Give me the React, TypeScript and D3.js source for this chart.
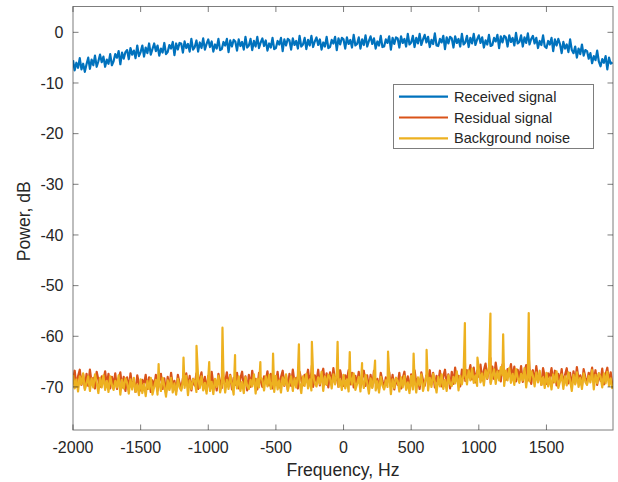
import React from "react";
import * as d3 from "d3";

// Power spectra of the received signal, the residual after cancellation and the background noise.
const WIDTH = 618;
const HEIGHT = 482;
const PLOT = { left: 73, right: 613, top: 6.5, bottom: 430 };

const FREQ_START = -2000; // Hz, first spectral bin
const FREQ_STEP = 12.5; // Hz between stored bins
const X_LIMITS = [-2000, 1992];
const Y_LIMITS = [-78.5, 5.1];
const X_TICKS = [-2000, -1500, -1000, -500, 0, 500, 1000, 1500];
const Y_TICKS = [-70, -60, -50, -40, -30, -20, -10, 0];

// Received signal, dB (one row per 100 Hz)
const receivedDb = [
  -5.5, -7.5, -6.0, -7.0, -5.1, -7.3, -6.2, -7.8,
  -6.3, -5.0, -7.2, -5.4, -6.5, -4.6, -6.8, -5.7,
  -4.4, -5.9, -4.8, -6.8, -5.4, -6.2, -4.3, -6.5,
  -5.7, -4.3, -5.0, -3.7, -6.3, -4.0, -5.2, -3.9,
  -3.5, -5.3, -3.1, -4.4, -3.6, -5.1, -2.6, -4.7,
  -3.9, -2.6, -4.8, -3.0, -4.1, -2.2, -4.4, -3.3,
  -2.2, -3.7, -2.6, -4.6, -3.2, -4.0, -2.1, -4.3,
  -3.9, -2.5, -3.2, -1.9, -4.5, -2.2, -3.4, -2.1,
  -2.2, -4.0, -1.8, -3.1, -2.3, -3.8, -1.3, -3.4,
  -2.9, -1.6, -3.8, -2.0, -3.1, -1.2, -3.4, -2.3,
  -1.4, -2.9, -1.8, -3.8, -2.4, -3.2, -1.3, -3.5,
  -3.3, -1.9, -2.6, -1.3, -3.9, -1.6, -2.8, -1.5,
  -1.8, -3.6, -1.4, -2.7, -1.9, -3.4, -0.9, -3.0,
  -2.6, -1.3, -3.5, -1.7, -2.8, -0.9, -3.1, -2.0,
  -1.2, -2.7, -1.6, -3.6, -2.2, -3.0, -1.1, -3.3,
  -3.1, -1.7, -2.4, -1.1, -3.7, -1.4, -2.6, -1.3,
  -1.6, -3.4, -1.2, -2.5, -1.7, -3.2, -0.7, -2.8,
  -2.4, -1.1, -3.3, -1.5, -2.6, -0.7, -2.9, -1.8,
  -1.0, -2.5, -1.4, -3.4, -2.0, -2.8, -0.9, -3.1,
  -2.9, -1.5, -2.2, -0.9, -3.5, -1.2, -2.4, -1.1,
  -1.4, -3.2, -1.0, -2.3, -1.5, -3.0, -0.5, -2.6,
  -2.3, -1.0, -3.2, -1.4, -2.5, -0.6, -2.8, -1.7,
  -0.8, -2.3, -1.2, -3.2, -1.8, -2.6, -0.7, -2.9,
  -2.8, -1.4, -2.1, -0.8, -3.4, -1.1, -2.3, -1.0,
  -1.2, -3.0, -0.8, -2.1, -1.3, -2.8, -0.3, -2.4,
  -2.0, -0.7, -2.9, -1.1, -2.2, -0.3, -2.5, -1.4,
  -0.5, -2.0, -0.9, -2.9, -1.5, -2.3, -0.2, -2.6,
  -2.7, -1.3, -2.0, -0.7, -3.3, -1.0, -2.2, -0.9,
  -1.2, -3.0, -0.8, -2.1, -1.3, -2.8, -0.3, -2.4,
  -2.0, -0.7, -2.9, -1.1, -2.2, -0.3, -2.5, -1.4,
  -0.6, -2.1, -1.0, -3.0, -1.6, -2.4, -0.5, -2.7,
  -2.5, -1.1, -1.8, -0.5, -3.1, -0.8, -2.0, -0.7,
  -1.0, -2.8, -0.6, -1.9, -1.1, -2.6, -0.1, -2.2,
  -1.9, -0.6, -2.8, -1.0, -2.1, -0.2, -2.4, -1.3,
  -0.7, -2.2, -1.1, -3.1, -1.7, -2.5, -0.6, -2.8,
  -3.1, -1.7, -2.4, -1.1, -3.7, -1.4, -2.6, -1.3,
  -2.3, -4.1, -1.9, -3.2, -2.4, -3.9, -1.4, -3.5,
  -4.1, -2.8, -5.0, -3.2, -4.3, -2.4, -4.6, -3.5,
  -3.7, -5.2, -4.1, -6.1, -4.7, -5.5, -3.6, -5.8,
  -6.7, -5.3, -6.0, -4.7, -7.3, -5.0, -6.2, -5.9,
];

// Residual signal, dB (one row per 100 Hz)
const residualDb = [
  -69.2, -66.8, -69.9, -67.9, -66.6, -69.6, -67.5, -70.3,
  -67.4, -69.8, -66.6, -69.1, -68.2, -70.3, -67.0, -68.6,
  -70.0, -67.9, -68.8, -66.9, -69.7, -67.4, -70.3, -68.0,
  -69.7, -67.3, -70.4, -68.4, -67.1, -70.1, -68.0, -70.8,
  -68.1, -70.5, -67.3, -69.8, -68.9, -71.0, -67.7, -69.3,
  -70.7, -68.6, -69.5, -67.6, -70.4, -68.1, -71.0, -68.7,
  -70.0, -67.6, -70.7, -68.7, -67.4, -70.4, -68.3, -71.1,
  -68.0, -70.4, -67.2, -69.7, -68.8, -70.9, -67.6, -69.2,
  -70.4, -68.3, -69.2, -67.3, -70.1, -67.8, -70.7, -68.4,
  -69.7, -67.3, -70.4, -68.4, -67.1, -70.1, -68.0, -70.8,
  -67.8, -70.2, -67.0, -69.5, -68.6, -70.7, -67.4, -69.0,
  -70.2, -68.1, -69.0, -67.1, -69.9, -67.6, -70.5, -68.2,
  -69.6, -67.2, -70.3, -68.3, -67.0, -70.0, -67.9, -70.7,
  -67.6, -70.0, -66.8, -69.3, -68.4, -70.5, -67.2, -68.8,
  -70.0, -67.9, -68.8, -66.9, -69.7, -67.4, -70.3, -68.0,
  -69.4, -67.0, -70.1, -68.1, -66.8, -69.8, -67.7, -70.5,
  -67.4, -69.8, -66.6, -69.1, -68.2, -70.3, -67.0, -68.6,
  -69.7, -67.6, -68.5, -66.6, -69.4, -67.1, -70.0, -67.7,
  -69.0, -66.6, -69.7, -67.7, -66.4, -69.4, -67.3, -70.1,
  -67.1, -69.5, -66.3, -68.8, -67.9, -70.0, -66.7, -68.3,
  -69.8, -67.7, -68.6, -66.7, -69.5, -67.2, -70.1, -67.8,
  -69.4, -67.0, -70.1, -68.1, -66.8, -69.8, -67.7, -70.5,
  -67.6, -70.0, -66.8, -69.3, -68.4, -70.5, -67.2, -68.8,
  -70.2, -68.1, -69.0, -67.1, -69.9, -67.6, -70.5, -68.2,
  -69.6, -67.2, -70.3, -68.3, -67.0, -70.0, -67.9, -70.7,
  -67.5, -69.9, -66.7, -69.2, -68.3, -70.4, -67.1, -68.7,
  -69.8, -67.7, -68.6, -66.7, -69.5, -67.2, -70.1, -67.8,
  -69.2, -66.8, -69.9, -67.9, -66.6, -69.6, -67.5, -70.3,
  -67.0, -69.4, -66.2, -68.7, -67.8, -69.9, -66.6, -68.2,
  -68.8, -66.7, -67.6, -65.7, -68.5, -66.2, -69.1, -66.8,
  -68.0, -65.6, -68.7, -66.7, -65.4, -68.4, -66.3, -69.1,
  -66.0, -68.4, -65.2, -67.7, -66.8, -68.9, -65.6, -67.2,
  -68.6, -66.5, -67.4, -65.5, -68.3, -66.0, -68.9, -66.6,
  -68.3, -65.9, -69.0, -67.0, -65.7, -68.7, -66.6, -69.4,
  -66.7, -69.1, -65.9, -68.4, -67.5, -69.6, -66.3, -67.9,
  -69.4, -67.3, -68.2, -66.3, -69.1, -66.8, -69.7, -67.4,
  -68.9, -66.5, -69.6, -67.6, -66.3, -69.3, -67.2, -70.0,
  -66.9, -69.3, -66.1, -68.6, -67.7, -69.8, -66.5, -68.1,
  -69.3, -67.2, -68.1, -66.2, -69.0, -66.7, -69.6, -67.3,
  -68.8, -66.4, -69.5, -67.5, -66.2, -69.2, -67.1, -69.9,
];

// Background noise, dB (one row per 100 Hz)
const noiseDb = [
  -67.6, -70.3, -68.5, -70.9, -67.9, -69.5, -67.3, -70.6,
  -69.3, -67.9, -70.8, -68.3, -70.1, -67.5, -69.1, -71.2,
  -68.2, -70.1, -67.7, -70.6, -68.8, -71.0, -67.9, -69.6,
  -70.6, -68.8, -70.1, -67.7, -71.5, -68.6, -70.3, -68.3,
  -69.2, -71.3, -68.5, -70.5, -68.2, -71.0, -69.5, -71.6,
  -68.5, -71.2, -69.4, -71.8, -68.8, -70.4, -68.2, -71.5,
  -70.0, -68.6, -71.5, -69.0, -70.8, -68.2, -69.8, -71.9,
  -68.7, -70.6, -68.2, -71.1, -69.3, -71.5, -68.4, -70.1,
  -70.7, -68.9, -70.2, -67.8, -71.6, -68.7, -70.4, -68.4,
  -68.9, -71.0, -68.2, -70.2, -67.9, -70.7, -69.2, -71.3,
  -68.1, -70.8, -69.0, -71.4, -68.4, -70.0, -67.8, -71.1,
  -69.6, -68.2, -71.1, -68.6, -70.4, -67.8, -69.4, -71.5,
  -68.4, -70.3, -67.9, -70.8, -69.0, -71.2, -68.1, -69.8,
  -70.4, -68.6, -69.9, -67.5, -71.3, -68.4, -70.1, -68.1,
  -68.6, -70.7, -67.9, -69.9, -67.6, -70.4, -68.9, -71.0,
  -67.8, -70.5, -68.7, -71.1, -68.1, -69.7, -67.5, -70.8,
  -69.3, -67.9, -70.8, -68.3, -70.1, -67.5, -69.1, -71.2,
  -67.9, -69.8, -67.4, -70.3, -68.5, -70.7, -67.6, -69.3,
  -69.9, -68.1, -69.4, -67.0, -70.8, -67.9, -69.6, -67.6,
  -68.2, -70.3, -67.5, -69.5, -67.2, -70.0, -68.5, -70.6,
  -67.6, -70.3, -68.5, -70.9, -67.9, -69.5, -67.3, -70.6,
  -69.4, -68.0, -70.9, -68.4, -70.2, -67.6, -69.2, -71.3,
  -68.3, -70.2, -67.8, -70.7, -68.9, -71.1, -68.0, -69.7,
  -70.5, -68.7, -70.0, -67.6, -71.4, -68.5, -70.2, -68.2,
  -68.8, -70.9, -68.1, -70.1, -67.8, -70.6, -69.1, -71.2,
  -67.8, -70.5, -68.7, -71.1, -68.1, -69.7, -67.5, -70.8,
  -69.2, -67.8, -70.7, -68.2, -70.0, -67.4, -69.0, -71.1,
  -68.0, -69.9, -67.5, -70.4, -68.6, -70.8, -67.7, -69.4,
  -69.8, -68.0, -69.3, -66.9, -70.7, -67.8, -69.5, -67.5,
  -67.4, -69.5, -66.7, -68.7, -66.4, -69.2, -67.7, -69.8,
  -66.4, -69.1, -67.3, -69.7, -66.7, -68.3, -66.1, -69.4,
  -67.9, -66.5, -69.4, -66.9, -68.7, -66.1, -67.7, -69.8,
  -66.8, -68.7, -66.3, -69.2, -67.4, -69.6, -66.5, -68.2,
  -69.2, -67.4, -68.7, -66.3, -70.1, -67.2, -68.9, -66.9,
  -67.8, -69.9, -67.1, -69.1, -66.8, -69.6, -68.1, -70.2,
  -67.2, -69.9, -68.1, -70.5, -67.5, -69.1, -66.9, -70.2,
  -68.9, -67.5, -70.4, -67.9, -69.7, -67.1, -68.7, -70.8,
  -67.6, -69.5, -67.1, -70.0, -68.2, -70.4, -67.3, -69.0,
  -69.6, -67.8, -69.1, -66.7, -70.5, -67.6, -69.3, -67.3,
  -68.0, -70.1, -67.3, -69.3, -67.0, -69.8, -68.3, -70.4,
];

// Narrow tonal lines in the background noise: [frequency Hz, level dB]
const noiseTones: [number, number][] = [
  [-1367, -65.5], [-1183, -64.2], [-1087, -61.9], [-993, -65.1], [-895, -58.3], [-802, -63.7],
  [-615, -65.1], [-521, -63.4], [-330, -61.6], [-234, -61.1], [-44, -61.1], [46, -63.1],
  [137, -65.3], [233, -64.8], [329, -63.0], [518, -63.4], [614, -62.7], [897, -57.4],
  [990, -64.2], [1086, -55.5], [1180, -59.6], [1369, -55.4],
];

// Tonal lines left in the residual: [frequency Hz, level dB]
const residualTones: [number, number][] = [
  [-895, -65.5], [-234, -65.8], [897, -64.7], [1086, -64.3], [1180, -65.4], [1369, -64.0],
];

const SERIES = [
  { name: "Received signal", color: "#0072BD" },
  { name: "Residual signal", color: "#D95319" },
  { name: "Background noise", color: "#EDB120" },
];

type Pt = [number, number];

function spectrum(values: number[], tones: [number, number][] = []): Pt[] {
  const pts: Pt[] = values.map((v, i) => [FREQ_START + i * FREQ_STEP, v]);
  return pts.concat(tones.map(([f, v]) => [f, v] as Pt)).sort((a, b) => a[0] - b[0]);
}

export default function App() {
  const x = d3.scaleLinear().domain(X_LIMITS).range([PLOT.left, PLOT.right]);
  const y = d3.scaleLinear().domain(Y_LIMITS).range([PLOT.bottom, PLOT.top]);
  const line = d3
    .line<Pt>()
    .x((d) => x(d[0]))
    .y((d) => y(d[1]));

  const curves = [
    spectrum(receivedDb),
    spectrum(residualDb, residualTones),
    spectrum(noiseDb, noiseTones),
  ];

  const axisColor = "#262626";
  const textColor = "#262626";
  const font = "'Liberation Sans', Arial, Helvetica, sans-serif";
  const tickLen = 5.5;

  const legend = { x: 393.5, y: 84.5, w: 200, h: 64, rowY: [96.7, 117.5, 138.3] };

  return (
    <svg
      width={WIDTH}
      height={HEIGHT}
      style={{ position: "absolute", left: 0, top: 0, display: "block", background: "#fff" }}
      fontFamily={font}
    >
      <defs>
        <clipPath id="plot-area">
          <rect x={PLOT.left} y={PLOT.top} width={PLOT.right - PLOT.left} height={PLOT.bottom - PLOT.top} />
        </clipPath>
      </defs>

      <g clipPath="url(#plot-area)">
        {curves.map((c, i) => (
          <path
            key={SERIES[i].name}
            d={line(c) || ""}
            fill="none"
            stroke={SERIES[i].color}
            strokeWidth={2.2}
            strokeLinejoin="round"
          />
        ))}
      </g>

      {/* axes box */}
      <rect
        x={PLOT.left}
        y={PLOT.top}
        width={PLOT.right - PLOT.left}
        height={PLOT.bottom - PLOT.top}
        fill="none"
        stroke={axisColor}
        strokeOpacity={0.6}
        strokeWidth={1}
      />

      {/* x ticks */}
      {X_TICKS.map((t) => (
        <g key={"x" + t}>
          <line x1={x(t)} x2={x(t)} y1={PLOT.bottom} y2={PLOT.bottom - tickLen} stroke={axisColor} strokeOpacity={0.6} />
          <line x1={x(t)} x2={x(t)} y1={PLOT.top} y2={PLOT.top + tickLen} stroke={axisColor} strokeOpacity={0.6} />
          <text x={x(t)} y={453.3} textAnchor="middle" fontSize={16} fill={textColor}>
            {t}
          </text>
        </g>
      ))}

      {/* y ticks */}
      {Y_TICKS.map((t) => (
        <g key={"y" + t}>
          <line x1={PLOT.left} x2={PLOT.left + tickLen} y1={y(t)} y2={y(t)} stroke={axisColor} strokeOpacity={0.6} />
          <line x1={PLOT.right} x2={PLOT.right - tickLen} y1={y(t)} y2={y(t)} stroke={axisColor} strokeOpacity={0.6} />
          <text x={63.5} y={y(t)} dy="0.36em" textAnchor="end" fontSize={16} fill={textColor}>
            {t}
          </text>
        </g>
      ))}

      <text x={(PLOT.left + PLOT.right) / 2} y={476} textAnchor="middle" fontSize={17.6} fill={textColor}>
        Frequency, Hz
      </text>
      <text
        transform={`translate(30, ${(PLOT.top + PLOT.bottom) / 2 + 3}) rotate(-90)`}
        textAnchor="middle"
        fontSize={17.6}
        fill={textColor}
      >
        Power, dB
      </text>

      {/* legend */}
      <rect x={legend.x} y={legend.y} width={legend.w} height={legend.h} fill="#fff" stroke={axisColor} strokeOpacity={0.6} />
      {SERIES.map((s, i) => (
        <g key={"lg" + s.name}>
          <line x1={399} x2={448} y1={legend.rowY[i]} y2={legend.rowY[i]} stroke={s.color} strokeWidth={2.2} />
          <text x={454} y={legend.rowY[i]} dy="0.35em" fontSize={14.5} fill={textColor}>
            {s.name}
          </text>
        </g>
      ))}
    </svg>
  );
}
